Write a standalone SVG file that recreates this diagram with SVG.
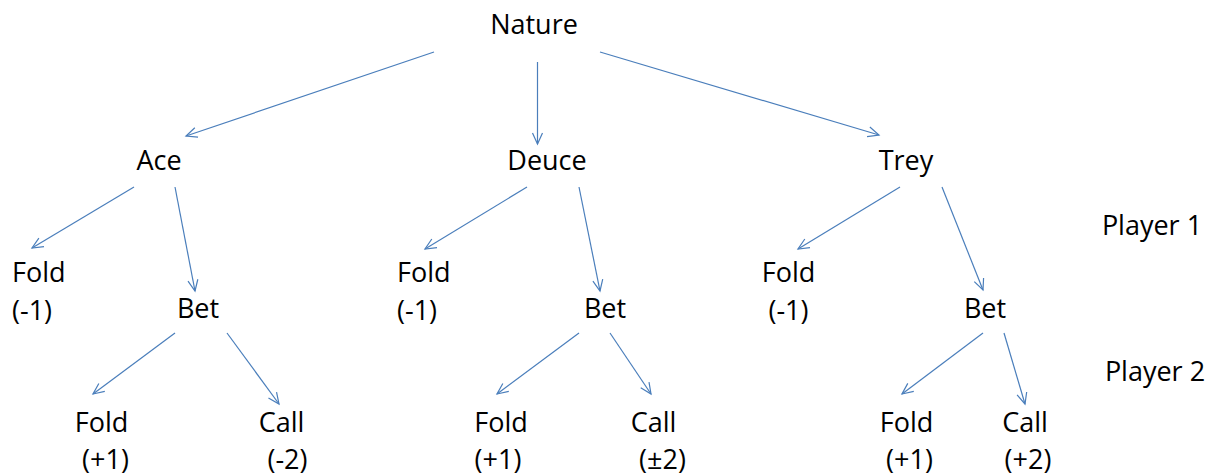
<svg xmlns="http://www.w3.org/2000/svg" width="1221" height="475" viewBox="0 0 1221 475">
<style>
text{font-family:"Open Sans","Liberation Sans",sans-serif;font-size:27px;fill:#000}
.c{text-anchor:middle}
.e line{stroke:#4a7ebb;stroke-width:1.2;marker-end:url(#a)}
</style>
<defs>
<marker id="a" markerUnits="userSpaceOnUse" markerWidth="14" markerHeight="12" viewBox="-12 -6 14 12" refX="0" refY="0" orient="auto" overflow="visible">
<path d="M-11,-5 L0,0 L-11,5" fill="none" stroke="#4a7ebb" stroke-width="1.2"/>
</marker>
</defs>
<rect width="1221" height="475" fill="#fff"/>
<g id="edges" class="e">
<line x1="434" y1="52" x2="186" y2="136"/>
<line x1="537.5" y1="62" x2="537.5" y2="144"/>
<line x1="600" y1="52" x2="879" y2="135"/>
<line x1="134" y1="187" x2="32" y2="248"/>
<line x1="175" y1="187" x2="195" y2="291"/>
<line x1="527" y1="187" x2="425" y2="249"/>
<line x1="579" y1="187" x2="600" y2="291"/>
<line x1="900" y1="187" x2="798" y2="249"/>
<line x1="942" y1="187" x2="983" y2="290"/>
<line x1="175" y1="333" x2="93" y2="394"/>
<line x1="227" y1="333" x2="279" y2="404"/>
<line x1="579" y1="333" x2="497" y2="394"/>
<line x1="610" y1="333" x2="651" y2="394"/>
<line x1="983" y1="333" x2="902" y2="394"/>
<line x1="1004" y1="333" x2="1025" y2="404"/>
</g>
<g id="nature"><text x="534" y="34" class="c">Nature</text></g>
<g id="ace"><text x="159" y="170" class="c">Ace</text></g>
<g id="deuce"><text x="547" y="170" class="c">Deuce</text></g>
<g id="trey"><text x="906" y="170" class="c">Trey</text></g>
<g id="player1"><text x="1152" y="235" class="c">Player 1</text></g>
<g id="player2"><text x="1155" y="381" class="c">Player 2</text></g>
<g id="ace-fold"><text x="12" y="282">Fold</text><text x="12" y="320">(-1)</text></g>
<g id="ace-bet"><text x="198" y="318" class="c">Bet</text></g>
<g id="deuce-fold"><text x="397" y="282">Fold</text><text x="397" y="320">(-1)</text></g>
<g id="deuce-bet"><text x="605" y="318" class="c">Bet</text></g>
<g id="trey-fold"><text x="788.5" y="282" class="c">Fold</text><text x="788.5" y="320" class="c">(-1)</text></g>
<g id="trey-bet"><text x="985" y="318" class="c">Bet</text></g>
<g id="ace-bet-fold"><text x="101.5" y="432" class="c">Fold</text><text x="105.5" y="469" class="c">(+1)</text></g>
<g id="ace-bet-call"><text x="281.5" y="432" class="c">Call</text><text x="287.5" y="469" class="c">(-2)</text></g>
<g id="deuce-bet-fold"><text x="501" y="432" class="c">Fold</text><text x="498" y="469" class="c">(+1)</text></g>
<g id="deuce-bet-call"><text x="653.5" y="432" class="c">Call</text><text x="662.5" y="469" class="c">(±2)</text></g>
<g id="trey-bet-fold"><text x="906.5" y="432" class="c">Fold</text><text x="909.5" y="469" class="c">(+1)</text></g>
<g id="trey-bet-call"><text x="1025" y="432" class="c">Call</text><text x="1028" y="469" class="c">(+2)</text></g>
</svg>
